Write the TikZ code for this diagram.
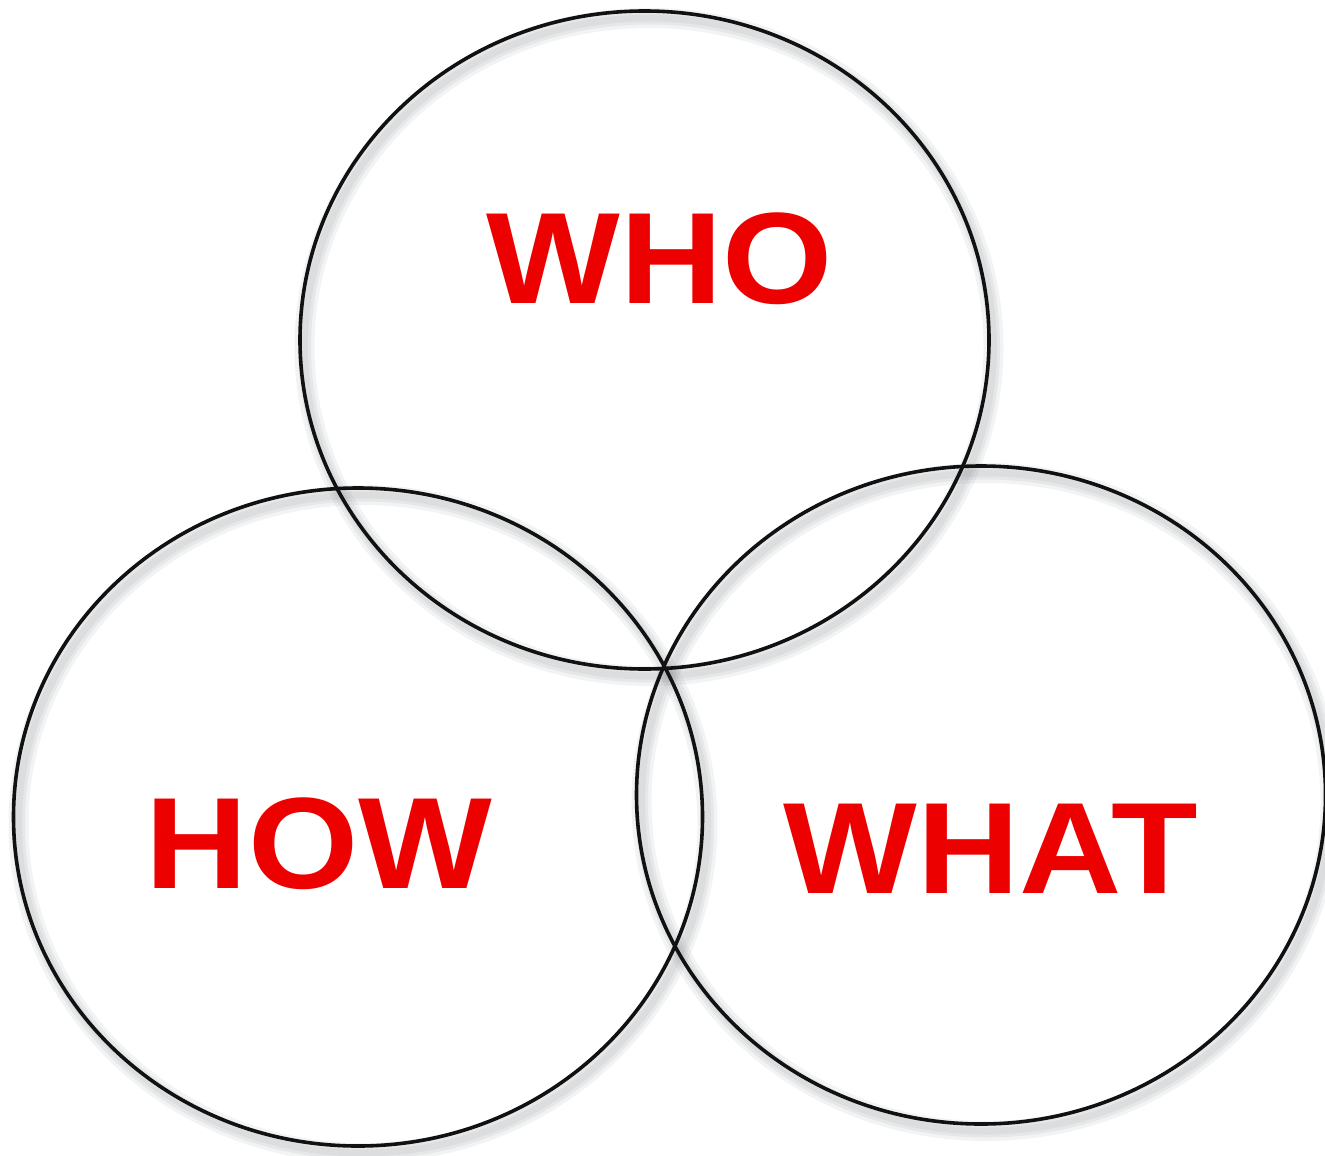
\documentclass[tikz,border=0pt]{standalone}
\usepackage{fontspec}
\setmainfont{Liberation Sans}
\usetikzlibrary{shapes.geometric}
\usepackage{xcolor}
\definecolor{ink}{HTML}{111111}
\definecolor{wordred}{HTML}{EC0000}
\definecolor{shade}{HTML}{6F757D}

\newcommand{\wideword}[1]{\scalebox{1.09}[1]{#1}}

\begin{document}
\begin{tikzpicture}[
  x=0.5pt, y=-0.5pt,
  ring/.style={ellipse, draw=ink, line width=1.8pt, inner sep=0pt,
               minimum width=344.5pt, minimum height=329pt},
  ringshade/.style={ring, draw=shade, line width=#1, draw opacity=0.09},
  word/.style={font=\fontsize{65}{65}\selectfont\bfseries, text=wordred, inner sep=0pt}
]
\useasboundingbox (0,0) rectangle (1325,1155);

% soft shadows
\foreach \w in {10pt, 6.5pt, 3.5pt} {
  \node[ringshade=\w] (whoshade) at (649,347) {};
  \node[ringshade=\w] (howshade) at (363,824) {};
  \node[ringshade=\w] (whatshade) at (986,802) {};
}

% circles
\node[ring] (who) at (644.5,340) {};
\node[ring] (how) at (358,817) {};
\node[ring] (what) at (981,795) {};

% labels
\node[word] (whotxt) at (660,258.5) {\wideword{WHO}};
\node[word] (howtxt) at (319,843.5) {\wideword{HOW}};
\node[word] (whattxt) at (991,849) {\wideword{WHAT}};
\end{tikzpicture}
\end{document}
